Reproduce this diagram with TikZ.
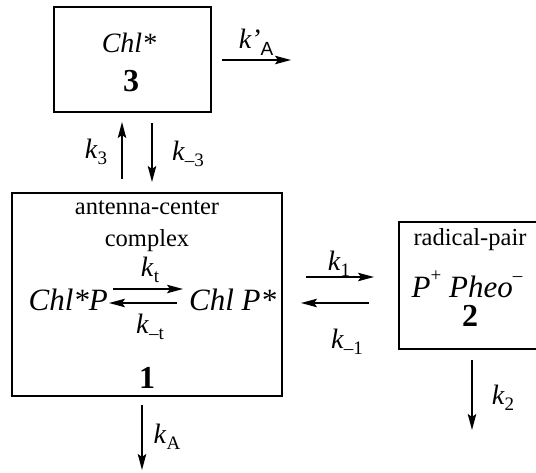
\documentclass[tikz,border=0pt]{standalone}
\usepackage{fontspec}
\setmainfont{Liberation Serif}
\newfontfamily\helvfont{Liberation Sans}
\usetikzlibrary{arrows.meta}
\newcommand{\kr}[1]{\textit{k}\raisebox{-0.45ex}{\fontsize{19}{19}\selectfont #1}}
\tikzset{
  boxed/.style={draw, line width=1.5pt, inner sep=0pt, anchor=north west},
  lab/.style={inner sep=0pt, font=\fontsize{28}{30}\selectfont},
  big/.style={inner sep=0pt, font=\fontsize{31}{33}\selectfont},
  small/.style={inner sep=0pt, font=\fontsize{24.5}{27}\selectfont},
  num/.style={inner sep=0pt, font=\fontsize{32}{32}\selectfont\bfseries},
  rx/.style={->, line width=1.3pt},
}
\begin{document}
\begin{tikzpicture}[x=1pt,y=-1pt,>={Stealth[length=16pt,width=8.5pt,inset=3pt]}]
\clip (0,0) rectangle (536,472);
% boxes
\node[boxed, minimum width=157pt, minimum height=105pt] (b3) at (53,6) {};
\node[boxed, minimum width=270pt, minimum height=203pt] (b1) at (11,192) {};
\node[boxed, minimum width=150pt, minimum height=127pt] (b2) at (398,221) {};
% box 3 text
\node[lab] (t3) at (129,43) {\textit{Chl*}};
\node[num] (n3) at (131,81) {3};
% box 1 text
\node[small] (t1a) at (147,208) {antenna-center};
\node[small] (t1b) at (147,241) {complex};
\node[big, anchor=east] (cp) at (108,300) {\textit{Chl*P}};
\node[big, anchor=west] (pc) at (189,300) {\textit{Chl P*}};
\node[lab] (kt) at (150,270) {\kr{t}};
\node[lab] (kmt) at (150,327) {\kr{–t}};
\node[num] (n1) at (147,378) {1};
% box 2 text
\node[small] (t2a) at (470,240) {radical-pair};
\node[big] (t2b) at (467,284) {\textit{P}\raisebox{1.1ex}{\fontsize{19}{19}\selectfont +} \textit{Pheo}\raisebox{1.1ex}{\fontsize{19}{19}\selectfont –}};
\node[num] (n2) at (470,316) {2};
% coordinates for arrows
\coordinate (ka1) at (222,60);
\coordinate (ka2) at (291,60);
\coordinate (u1) at (122,179);
\coordinate (u2) at (122,122);
\coordinate (d1) at (152,123);
\coordinate (d2) at (152,182);
\coordinate (f1) at (306,277);
\coordinate (f2) at (374,277);
\coordinate (r1) at (369,303);
\coordinate (r2) at (301,303);
\coordinate (a1) at (142,405);
\coordinate (a2) at (142,470);
\coordinate (c1) at (472,360);
\coordinate (c2) at (472,430);
\coordinate (t1) at (113,289);
\coordinate (t2) at (183,289);
\coordinate (s1) at (177,303);
\coordinate (s2) at (109,303);
% arrows
\draw[rx] (ka1) -- (ka2);
\draw[rx] (u1) -- (u2);
\draw[rx] (d1) -- (d2);
\draw[rx] (f1) -- (f2);
\draw[rx] (r1) -- (r2);
\draw[rx] (a1) -- (a2);
\draw[rx] (c1) -- (c2);
\draw[rx] (t1) -- (t2);
\draw[rx] (s1) -- (s2);
% labels
\node[lab] (lka) at (256,42) {\textit{k'}\raisebox{-0.55ex}{\helvfont\fontsize{19}{19}\selectfont A}};
\node[lab] (lk3) at (96,152) {\kr{3}};
\node[lab] (lkm3) at (188,154) {\kr{–3}};
\node[lab] (lk1) at (339,264) {\kr{1}};
\node[lab] (lkm1) at (347,342) {\kr{–1}};
\node[lab] (lkA) at (167,437) {\kr{A}};
\node[lab] (lk2) at (503,398) {\kr{2}};
\end{tikzpicture}
\end{document}
